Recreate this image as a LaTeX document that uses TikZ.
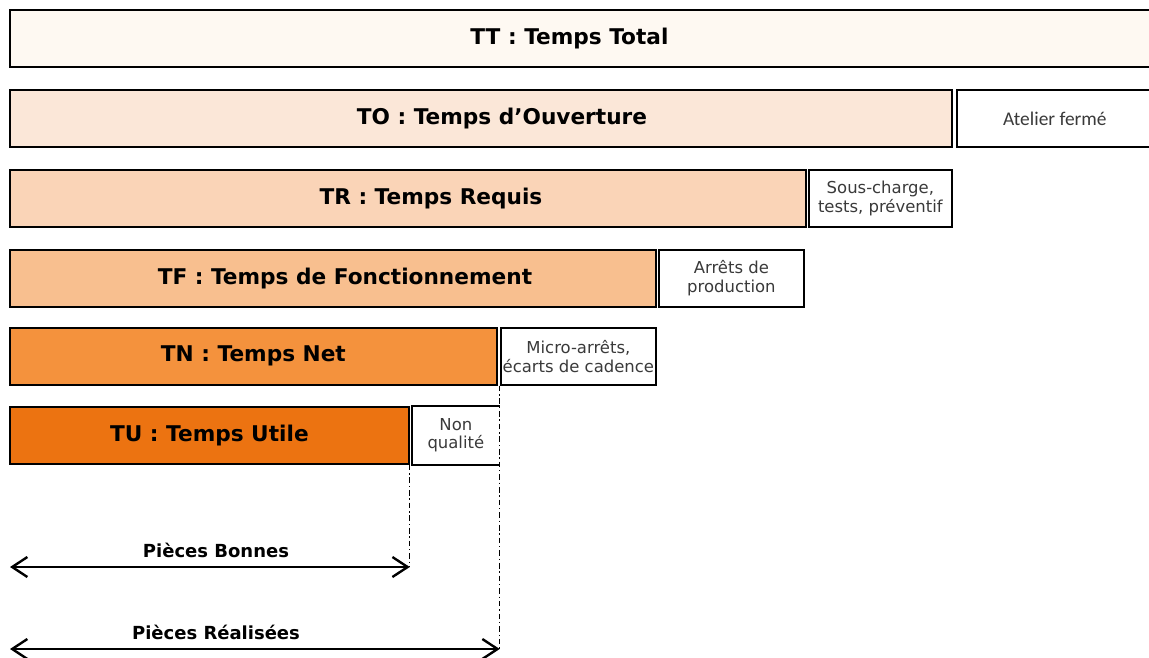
\documentclass[tikz,border=0pt]{standalone}
\usepackage{fontspec}
\setmainfont{DejaVu Sans}
\newfontfamily\calib{Carlito}
\usepackage{tikz}
\usetikzlibrary{arrows.meta}
\definecolor{cTT}{HTML}{FEF9F2}
\definecolor{cTO}{HTML}{FBE7D8}
\definecolor{cTR}{HTML}{FAD4B7}
\definecolor{cTF}{HTML}{F8BF8F}
\definecolor{cTN}{HTML}{F4923D}
\definecolor{cTU}{HTML}{EC7311}
\definecolor{txtgray}{HTML}{3A3A3A}

\begin{document}
\begin{tikzpicture}[x = 0.025cm, y = -0.025cm, anno/.style = {line width = 1.7pt,{Straight Barb[length = 3.8mm, width = 5mm]}-{Straight Barb[length = 3.8mm, width = 5mm]}}]
    \useasboundingbox (0,0) rectangle (1149,657);
    \tikzstyle{bar}=[draw, line width = 1.2pt, anchor = north west, minimum height = 1.425cm, inner sep = 0pt]
    \tikzstyle{ttl}=[font = \fontsize{15.4}{18}\selectfont\bfseries]
    \tikzstyle{loss}=[bar, fill = white, text = txtgray, align = center, font = \fontsize{11.7}{13.2}\selectfont]
    \tikzstyle{lbl}=[font = \fontsize{12.8}{15}\selectfont\bfseries]

    \node[bar, fill = cTT, minimum width = 28.575cm] (tt) at (9,9) {};
    \node[bar, fill = cTO, minimum width = 23.55cm] (to) at (9,89) {};
    \node[bar, fill = cTR, minimum width = 19.9cm] (tr) at (9,169) {};
    \node[bar, fill = cTF, minimum width = 16.15cm] (tf) at (9,249) {};
    \node[bar, fill = cTN, minimum width = 12.175cm] (tn) at (9,327) {};
    \node[bar, fill = cTU, minimum width = 9.975cm] (tu) at (9,406) {};

    \node[ttl] (tt-t) at ([xshift = -0.3cm]tt.center) {TT : Temps Total};
    \node[ttl] (to-t) at ([xshift = 0.525cm]to.center) {TO : Temps d'Ouverture};
    \node[ttl] (tr-t) at ([xshift = 0.575cm]tr.center) {TR : Temps Requis};
    \node[ttl] (tf-t) at ([xshift = 0.3cm]tf.center) {TF : Temps de Fonctionnement};
    \node[ttl] (tn-t) at (tn.center) {TN : Temps Net};
    \node[ttl] (tu-t) at (tu.center) {TU : Temps Utile};

    \node[loss, minimum width = 4.9cm, font = \calib\fontsize{13.8}{16}\selectfont] (af) at (956,89) {Atelier fermé};
    \node[loss, minimum width = 3.575cm] (sc) at (808,169) {Sous-charge,\\tests, préventif};
    \node[loss, minimum width = 3.625cm] (ap) at (658,249) {Arrêts de\\production};
    \node[loss, minimum width = 3.875cm] (ma) at (500,327) {Micro-arrêts,\\écarts de cadence};
    \node[loss, draw = none, minimum width = 2.15cm] (nq) at (412,406) {Non\\qualité};
    \draw[line width = 1.2pt] (nq.north east) -- (nq.north west) -- (nq.south west) -- (nq.south east);

    \coordinate (pbL) at (10,567);
    \coordinate (pbR) at (tu.south east |- pbL);
    \coordinate (prL) at (10,649);
    \coordinate (prR) at (nq.south east |- prL);

    \draw[line width = 0.8pt, dash pattern = on 4pt off 2pt on 1pt off 2pt] (tu.south east) -- (pbR);
    \draw[line width = 0.8pt, dash pattern = on 4pt off 2pt on 1pt off 2pt] (tn.south east -| nq.east) -- (prR);

    \draw[anno] (pbL) to (pbR);
    \draw[anno] (prL) to (prR);
    \node[lbl] (pb) at (216,550) {Pièces Bonnes};
    \node[lbl] (pr) at (216,632) {Pièces Réalisées};
\end{tikzpicture}
\end{document}
